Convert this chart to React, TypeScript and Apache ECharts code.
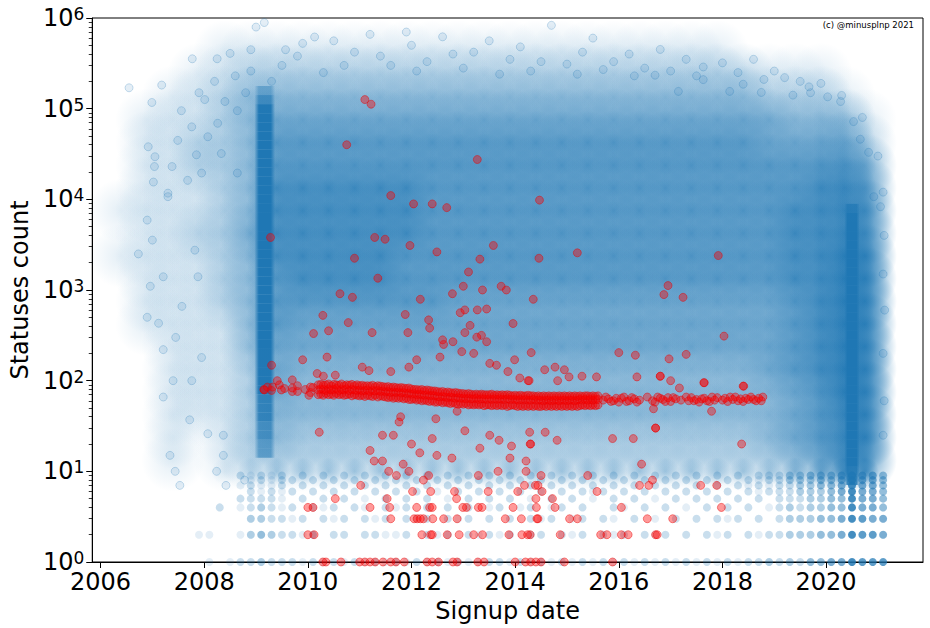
import React, { useEffect, useRef } from "react";
import * as echarts from "echarts";

// ---------- axes ----------
const X_MIN = 2005.84;
const X_MAX = 2021.87;
const xTickYears = [2006, 2008, 2010, 2012, 2014, 2016, 2018, 2020];
const yMinorValues = [
  2, 3, 4, 5, 6, 7, 8, 9,
  20, 30, 40, 50, 60, 70, 80, 90,
  200, 300, 400, 500, 600, 700, 800, 900,
  2000, 3000, 4000, 5000, 6000, 7000, 8000, 9000,
  20000, 30000, 40000, 50000, 60000, 70000, 80000, 90000,
  200000, 300000, 400000, 500000, 600000, 700000, 800000, 900000,
];

// ---------- blue cloud: density (0 = empty, 9 = saturated) ----------
// columns: half-year bins (centre years), rows: quarter-decade bins (centre log10 value), top to bottom
const densityCols = [
  2006.4, 2006.9, 2007.4, 2007.9, 2008.4, 2008.9, 2009.4, 2009.9, 2010.4, 2010.9,
  2011.4, 2011.9, 2012.4, 2012.9, 2013.4, 2013.9, 2014.4, 2014.9, 2015.4, 2015.9,
  2016.4, 2016.9, 2017.4, 2017.9, 2018.4, 2018.9, 2019.4, 2019.9, 2020.35, 2020.75,
];
const densityRowsLog = [
  5.875, 5.625, 5.375, 5.125, 4.875, 4.625, 4.375, 4.125, 3.875, 3.625,
  3.375, 3.125, 2.875, 2.625, 2.375, 2.125, 1.875, 1.625, 1.375, 1.125,
];
const densityGrid = [
  "000000000000000000000000000000",
  "000011111111111111111111000000",
  "000112222222222222222222211100",
  "001123333333333333333333322210",
  "011123444444444444444444443331",
  "011223555555555555555555544442",
  "011223555555555555555555555554",
  "011123666666555555555555555665",
  "111123666666555555555555556666",
  "011224666666555555555555556666",
  "111123666665555555555555556677",
  "011123566665555555555555556677",
  "011123555555544444444444445677",
  "011113544444444444444444445677",
  "001113444444444444444444445677",
  "001112433333333333333333345677",
  "001112433333333333333333334577",
  "001112333333333333333333334567",
  "001012322222222222222222234567",
  "001012222222222222222222223466",
];
// the thin layer of accounts with about ten statuses, just above the integer rows
const edgeRowLog = 1.0;
const edgeRowLevels = "000012333333333333333333334577";

// dense vertical stripes (levels every 0.1 decade, from the first log value upward)
const stripe2009Year = 2009.17;
const stripe2009FromLog = 1.2;
const stripe2009Levels = "44556667777788888888889999999999999988753";
const stripe2020Year = 2020.5;
const stripe2020FromLog = 0.9;
const stripe2020Levels = "6688899999999999999999999999875";

// integer-count rows (values 1..9), levels in 0.2-year bins starting at 2007.7
const rowValues = [1, 2, 3, 4, 5, 6, 7, 8, 9];
const rowBinStart = 2007.7;
const rowBinStep = 0.2;
const rowLevels = [
  "00101" + "22322" + "21212" + "12121" + "21212" + "12112" + "21212" + "12121" + "21212" + "12121" + "21212" + "23232" + "44557" + "666",
  "01100" + "13432" + "21302" + "20221" + "12021" + "20212" + "12022" + "02120" + "21202" + "12020" + "21202" + "12233" + "34457" + "665",
  "00000" + "03322" + "12021" + "20212" + "02120" + "21202" + "02021" + "20120" + "21020" + "10202" + "02120" + "20233" + "34457" + "655",
  "00020" + "12321" + "20212" + "02102" + "12020" + "20201" + "20120" + "12020" + "02102" + "02010" + "20202" + "01232" + "33447" + "554",
  "00000" + "22221" + "02020" + "20102" + "02020" + "10202" + "02010" + "20201" + "02020" + "10202" + "02020" + "20222" + "33447" + "554",
  "00000" + "02121" + "20202" + "02020" + "20201" + "02020" + "20202" + "02021" + "20202" + "02020" + "20202" + "12223" + "33457" + "554",
  "00000" + "12112" + "02020" + "20202" + "02020" + "20202" + "02020" + "20202" + "02020" + "20202" + "02021" + "21223" + "34457" + "554",
  "00000" + "01212" + "20202" + "02020" + "20202" + "02020" + "20202" + "02020" + "20202" + "02020" + "20202" + "12233" + "34457" + "554",
  "00000" + "21212" + "02020" + "20202" + "02020" + "20202" + "02020" + "20202" + "02020" + "20202" + "02020" + "22233" + "44457" + "554",
];

// individually visible blue accounts on the fringe of the cloud [year, statuses]
const blueFringe = [
  [2006.55, 170000], [2006.99, 117000], [2007.18, 182000], [2007.56, 95000], [2007.77, 355000],
  [2008.25, 355000], [2008.5, 407000], [2008.9, 447000], [2009.0, 794000], [2009.16, 891000],
  [2009.57, 447000], [2009.9, 525000], [2010.13, 617000], [2006.92, 38000], [2007.05, 29500],
  [2007.02, 15500], [2007.38, 23000], [2007.3, 11700], [2007.49, 44700], [2007.76, 63000],
  [2007.85, 31000], [2007.95, 19500], [2008.07, 49000], [2008.01, 126000], [2008.26, 69000],
  [2008.33, 32000], [2008.64, 95000], [2008.64, 19500], [2006.73, 2500], [2006.9, 5900],
  [2007.0, 3550], [2006.96, 1100], [2006.9, 500], [2007.21, 1400], [2007.21, 220],
  [2007.21, 66], [2007.4, 100], [2007.3, 10700], [2007.57, 660], [2007.76, 100],
  [2007.72, 37], [2007.82, 2750], [2007.45, 300], [2007.12, 430], [2007.04, 23000],
  [2007.68, 16200], [2007.88, 1400], [2007.95, 180], [2008.07, 26], [2007.34, 15],
  [2007.44, 10], [2007.53, 7], [2008.24, 10], [2008.37, 25], [2008.42, 7],
  [2008.37, 15], [2008.78, 8],
  [2017.63, 288000], [2017.63, 209000], [2018.4, 186000], [2019.67, 174000], [2020.28, 120000],
  [2020.53, 72000], [2020.66, 46000], [2020.82, 33000], [2020.92, 10700], [2021.05, 8300],
  [2016.7, 234000], [2017.15, 155000], [2018.14, 155000], [2018.75, 151000], [2019.36, 141000],
  [2020.03, 135000], [2010.5, 560000], [2011.2, 660000], [2012.0, 500000], [2012.8, 400000],
  [2013.5, 560000], [2014.7, 830000], [2015.5, 600000], [2016.2, 400000], [2016.8, 450000],
  [2017.3, 350000], [2018.0, 320000], [2018.6, 350000], [2019.0, 260000], [2019.5, 200000],
  [2009.8, 380000], [2010.9, 420000], [2011.6, 300000], [2012.3, 330000], [2013.0, 280000],
  [2013.9, 350000], [2014.3, 260000], [2015.0, 310000], [2015.9, 330000], [2016.5, 280000],
  [2011.9, 700000], [2010.3, 250000], [2014.1, 480000], [2015.3, 420000], [2017.0, 260000],
  [2018.3, 250000], [2012.6, 620000], [2009.5, 300000], [2008.9, 260000], [2008.6, 230000],
  [2008.2, 200000], [2007.9, 150000], [2019.2, 220000], [2019.9, 190000], [2020.3, 140000],
  [2020.7, 80000], [2021.0, 30000], [2021.1, 12000], [2021.12, 4000], [2021.1, 1500],
  [2021.13, 600], [2021.1, 200], [2021.12, 60], [2021.1, 25],
  [2010.7, 300000], [2011.4, 380000], [2012.1, 260000], [2013.2, 420000], [2013.7, 240000],
  [2014.5, 330000], [2015.2, 240000], [2015.7, 270000], [2016.3, 230000], [2017.5, 230000],
  [2018.8, 210000], [2019.7, 150000], [2009.3, 200000], [2008.8, 150000], [2008.4, 120000],
];

// red accounts: the core of the band, three accounts per date [year, low, mid, high]
const redBandCore = [
  [2010.2, 70, 79, 90], [2010.25, 71, 81, 91], [2010.3, 69, 80, 89], [2010.35, 72, 78, 90], [2010.4, 70, 81, 92],
  [2010.45, 71, 79, 88], [2010.5, 69, 80, 91], [2010.55, 72, 82, 90], [2010.6, 70, 78, 89], [2010.65, 71, 80, 92],
  [2010.7, 69, 79, 88], [2010.75, 70, 81, 90], [2010.8, 71, 78, 89], [2010.85, 68, 80, 91], [2010.9, 70, 79, 88],
  [2010.95, 69, 78, 90], [2011.0, 68, 79, 88], [2011.05, 69, 77, 89], [2011.1, 67, 78, 87], [2011.15, 69, 79, 88],
  [2011.2, 68, 76, 87], [2011.25, 67, 78, 89], [2011.3, 69, 77, 86], [2011.35, 66, 78, 88], [2011.4, 68, 76, 87],
  [2011.45, 67, 77, 86], [2011.5, 66, 75, 85], [2011.55, 65, 76, 86], [2011.6, 66, 74, 84], [2011.65, 64, 75, 85],
  [2011.7, 65, 74, 84], [2011.75, 64, 75, 83], [2011.8, 65, 73, 84], [2011.85, 63, 74, 83], [2011.9, 64, 72, 82],
  [2011.95, 62, 73, 83], [2012.0, 62, 71, 81], [2012.05, 63, 72, 80], [2012.1, 61, 70, 80], [2012.15, 62, 71, 79],
  [2012.2, 60, 70, 80], [2012.25, 61, 69, 78], [2012.3, 60, 70, 79], [2012.35, 59, 68, 78], [2012.4, 60, 69, 77],
  [2012.45, 58, 68, 77], [2012.5, 58, 67, 76], [2012.55, 59, 66, 75], [2012.6, 57, 67, 76], [2012.65, 58, 66, 74],
  [2012.7, 57, 65, 75], [2012.75, 56, 66, 74], [2012.8, 57, 65, 73], [2012.85, 56, 64, 74], [2012.9, 55, 65, 73],
  [2012.95, 56, 64, 72], [2013.0, 55, 64, 72], [2013.05, 56, 63, 71], [2013.1, 54, 64, 72], [2013.15, 55, 63, 71],
  [2013.2, 54, 63, 70], [2013.25, 55, 64, 71], [2013.3, 54, 62, 70], [2013.35, 55, 63, 71], [2013.4, 53, 63, 70],
  [2013.45, 54, 62, 70], [2013.5, 54, 63, 70], [2013.55, 53, 62, 71], [2013.6, 54, 63, 69], [2013.65, 53, 62, 70],
  [2013.7, 54, 63, 69], [2013.75, 53, 62, 70], [2013.8, 54, 62, 69], [2013.85, 52, 63, 70], [2013.9, 53, 62, 69],
  [2013.95, 54, 62, 68], [2014.0, 53, 62, 69], [2014.05, 52, 61, 68], [2014.1, 53, 62, 69], [2014.15, 52, 61, 68],
  [2014.2, 53, 62, 68], [2014.25, 52, 61, 69], [2014.3, 53, 61, 68], [2014.35, 52, 62, 68], [2014.4, 53, 61, 67],
  [2014.45, 52, 61, 68], [2014.5, 52, 61, 67], [2014.55, 53, 60, 68], [2014.6, 52, 61, 67], [2014.65, 53, 61, 68],
  [2014.7, 52, 60, 67], [2014.75, 53, 61, 68], [2014.8, 52, 61, 67], [2014.85, 53, 60, 68], [2014.9, 52, 61, 67],
  [2014.95, 53, 61, 68], [2015.0, 52, 60, 67], [2015.05, 53, 61, 68], [2015.1, 52, 61, 67], [2015.15, 53, 60, 68],
  [2015.2, 52, 61, 67], [2015.25, 53, 62, 68], [2015.3, 54, 61, 67], [2015.35, 53, 62, 68], [2015.4, 54, 61, 68],
  [2015.45, 53, 62, 67], [2015.5, 54, 61, 68], [2015.55, 53, 62, 67], [2015.6, 54, 62, 68],
];

// red accounts along the band [year, statuses]
const redBand = [
  [2009.15, 80], [2009.22, 85], [2009.3, 78], [2009.45, 90], [2009.55, 82], [2009.7, 76], [2009.8, 88],
  [2009.95, 80], [2010.05, 74], [2010.1, 84],
  [2015.7, 61], [2015.75, 66], [2015.8, 63], [2015.85, 59], [2015.9, 60], [2015.95, 64], [2016.0, 58],
  [2016.05, 64], [2016.1, 66], [2016.15, 59], [2016.2, 60], [2016.25, 65], [2016.3, 63], [2016.35, 58],
  [2016.4, 61], [2016.55, 66], [2016.65, 60], [2016.7, 58], [2016.75, 66], [2016.8, 64], [2016.85, 62],
  [2016.9, 59], [2016.95, 65], [2017.0, 59], [2017.05, 65], [2017.1, 63], [2017.2, 61], [2017.3, 66],
  [2017.35, 60], [2017.4, 65], [2017.45, 60], [2017.5, 62], [2017.55, 58], [2017.6, 63], [2017.65, 64],
  [2017.7, 60], [2017.75, 59], [2017.8, 66], [2017.85, 61], [2017.9, 65], [2018.0, 61], [2018.05, 64],
  [2018.1, 59], [2018.15, 66], [2018.2, 62], [2018.25, 66], [2018.3, 60], [2018.35, 63], [2018.4, 59],
  [2018.45, 64], [2018.5, 62], [2018.55, 66], [2018.6, 62], [2018.65, 60], [2018.7, 64], [2018.75, 60],
  [2018.78, 66],
];

// red accounts scattered off the band [year, statuses]
const redScatter = [
  [2011.1, 126000], [2011.22, 112000], [2010.75, 40000], [2013.27, 27500], [2011.6, 11000], [2012.04, 8900],
  [2012.4, 8900], [2012.68, 8100], [2014.47, 9800], [2009.28, 3800], [2011.29, 3800], [2011.49, 3630],
  [2011.97, 3100], [2012.49, 2630], [2013.58, 3100], [2013.32, 2190], [2014.46, 2240], [2010.9, 2240],
  [2011.35, 1350], [2013.1, 1580], [2013.0, 1100], [2013.37, 1000], [2013.73, 1100], [2013.83, 1000],
  [2012.79, 910], [2010.62, 910], [2010.86, 830], [2012.17, 790], [2014.35, 790], [2017.92, 2400],
  [2015.2, 2570], [2016.95, 1120], [2016.87, 890], [2017.24, 830], [2018.03, 310], [2016.97, 174],
  [2017.3, 195], [2016.8, 112], [2017.0, 100], [2017.64, 95], [2018.41, 87], [2017.17, 83],
  [2010.29, 525], [2010.78, 437], [2010.11, 331], [2010.4, 355], [2011.24, 339], [2011.88, 537],
  [2011.93, 339], [2012.33, 468], [2012.35, 380], [2012.94, 562], [2013.03, 603], [2013.27, 603],
  [2013.45, 617], [2013.13, 407], [2013.03, 339], [2013.35, 316], [2013.26, 302], [2013.45, 269],
  [2012.6, 282], [2012.62, 251], [2012.8, 269], [2012.97, 209], [2013.2, 200], [2013.96, 427],
  [2014.31, 204], [2009.3, 148], [2009.9, 170], [2010.37, 182], [2011.05, 141], [2011.18, 129],
  [2012.1, 170], [2012.55, 182], [2013.51, 155], [2013.64, 148], [2013.99, 170], [2013.86, 126],
  [2014.09, 107], [2014.27, 100], [2011.6, 126], [2011.95, 141],
  [2011.79, 40], [2011.76, 35], [2012.47, 38], [2012.88, 46], [2010.22, 27], [2011.44, 25],
  [2011.65, 25], [2012.0, 20], [2012.4, 23], [2013.03, 28], [2013.32, 18], [2013.51, 25],
  [2013.69, 22], [2013.93, 19], [2014.29, 20], [2011.2, 17], [2012.16, 16], [2012.49, 15],
  [2012.78, 14], [2013.9, 14], [2014.21, 13], [2011.28, 13], [2011.44, 13], [2011.84, 12],
  [2011.56, 10], [2011.71, 9], [2011.95, 10], [2012.33, 9], [2013.29, 9], [2013.67, 10],
  [2014.21, 10], [2014.5, 9], [2012.23, 8], [2011.02, 7], [2012.02, 6], [2012.37, 6],
  [2012.83, 6], [2013.48, 6], [2014.05, 6], [2014.44, 7], [2010.53, 5], [2011.53, 5], [2012.87, 5],
  [2010.1, 4], [2011.2, 4], [2011.58, 4], [2012.1, 4], [2012.35, 4], [2012.4, 4], [2012.99, 4],
  [2013.06, 4], [2013.29, 4], [2013.36, 4], [2013.96, 4], [2014.41, 4], [2010.0, 4],
  [2011.6, 3], [2012.05, 3], [2012.11, 3], [2012.17, 3], [2012.23, 3], [2012.41, 3], [2012.62, 3],
  [2012.88, 3], [2013.81, 3], [2014.12, 3], [2014.44, 3],
  [2010.0, 2], [2010.12, 2], [2012.2, 2], [2012.37, 2], [2012.4, 2], [2012.69, 2], [2012.92, 2],
  [2013.2, 2], [2013.37, 2], [2013.88, 2], [2014.13, 2], [2014.29, 2],
  [2010.29, 1], [2010.35, 1], [2010.64, 1], [2011.0, 1], [2011.1, 1], [2011.2, 1], [2011.3, 1],
  [2011.45, 1], [2011.6, 1], [2011.7, 1], [2011.86, 1], [2012.3, 1], [2012.4, 1], [2012.52, 1],
  [2012.8, 1], [2012.88, 1], [2013.28, 1], [2013.4, 1], [2014.0, 1], [2014.2, 1], [2014.3, 1],
  [2014.4, 1], [2014.5, 1], [2014.95, 1], [2015.88, 1],
  [2016.0, 204], [2016.32, 191], [2014.57, 132], [2014.77, 141], [2014.95, 132], [2014.82, 100],
  [2015.04, 110], [2015.29, 112], [2015.57, 110], [2016.35, 110], [2016.8, 112], [2017.65, 95],
  [2018.4, 87], [2014.25, 100], [2014.28, 27], [2014.58, 27], [2014.3, 20], [2014.81, 22],
  [2015.88, 23], [2016.28, 23], [2016.71, 30], [2018.37, 20], [2016.44, 12], [2015.4, 9],
  [2014.18, 7], [2014.39, 7], [2016.4, 7], [2016.58, 7], [2016.65, 8], [2017.58, 7], [2017.89, 7],
  [2014.52, 6], [2015.58, 6], [2014.4, 5], [2014.72, 5], [2014.77, 4], [2016.05, 4], [2017.98, 4],
  [2014.42, 3], [2015.05, 3], [2015.2, 3], [2016.55, 3], [2017.04, 3],
  [2014.24, 2], [2014.87, 2], [2015.65, 2], [2015.77, 2], [2016.05, 2], [2016.18, 2], [2016.71, 2], [2016.74, 2],
  [2016.67, 49], [2017.79, 46], [2016.71, 30],
  [2009.16, 79], [2009.32, 85], [2009.41, 100], [2009.49, 79], [2009.7, 102], [2009.7, 83],
  [2009.8, 76], [2010.02, 69], [2010.05, 85], [2010.18, 120], [2010.3, 112], [2010.53, 115],
];

const FONT = "DejaVu Sans";
const BLUE = "#1f77b4";

export default function App() {
  const ref = useRef<HTMLDivElement>(null);

  useEffect(() => {
    if (!ref.current) return;
    const chart = echarts.init(ref.current, undefined, { renderer: "svg" });

    const densityData: any[] = [];
    densityGrid.forEach((row, j) => {
      for (let i = 0; i < densityCols.length; i++) {
        const lv = Number(row[i] || 0);
        if (lv > 0) {
          densityData.push({
            value: [densityCols[i], Math.pow(10, densityRowsLog[j])],
            itemStyle: { opacity: Math.min(1, lv * 0.125) },
          });
        }
      }
    });
    for (let i = 0; i < densityCols.length; i++) {
      const lv = Number(edgeRowLevels[i] || 0);
      if (lv > 0) {
        densityData.push({
          value: [densityCols[i], Math.pow(10, edgeRowLog)],
          symbolSize: 28,
          itemStyle: { opacity: Math.min(1, lv * 0.1) },
        });
      }
    }

    const stripeData: any[] = [];
    const addStripe = (year: number, fromLog: number, levels: string, w: number) => {
      for (let k = 0; k < levels.length; k++) {
        const lv = Number(levels[k]);
        if (lv > 0) {
          stripeData.push({
            value: [year, Math.pow(10, fromLog + k * 0.1)],
            symbolSize: [w, 9.1],
            itemStyle: { opacity: Math.min(1, lv * 0.14) },
          });
        }
      }
    };
    addStripe(stripe2009Year, stripe2009FromLog, stripe2009Levels, 20);
    addStripe(stripe2020Year, stripe2020FromLog, stripe2020Levels, 15);

    const rowData: any[] = [];
    rowValues.forEach((v, r) => {
      const s = rowLevels[r];
      for (let k = 0; k < s.length; k++) {
        const lv = Number(s[k]);
        if (lv > 0) {
          rowData.push({
            value: [rowBinStart + k * rowBinStep, v],
            itemStyle: { opacity: Math.min(1, lv * 0.12) },
          });
        }
      }
    });

    const redData: number[][] = [];
    redBandCore.forEach(([yr, a, b, c]) => {
      redData.push([yr, a], [yr, b], [yr, c]);
    });
    redBand.forEach((p) => redData.push(p));

    const softBlue = new echarts.graphic.RadialGradient(0.5, 0.5, 0.5, [
      { offset: 0, color: "rgba(31,119,180,1)" },
      { offset: 1, color: "rgba(31,119,180,0)" },
    ]);
    const stripeBlue = new echarts.graphic.LinearGradient(0, 0, 1, 0, [
      { offset: 0, color: "rgba(31,119,180,0.1)" },
      { offset: 0.2, color: "rgba(31,119,180,1)" },
      { offset: 0.8, color: "rgba(31,119,180,1)" },
      { offset: 1, color: "rgba(31,119,180,0.1)" },
    ]);

    const redStyle = {
      color: "rgba(255,0,0,0.5)",
      borderColor: "rgba(230,0,0,0.55)",
      borderWidth: 1,
    };

    const option: any = {
      animation: false,
      backgroundColor: "#ffffff",
      textStyle: { fontFamily: FONT },
      grid: {
        left: 86,
        top: 18,
        right: 7,
        bottom: 66,
        show: true,
        borderColor: "#000",
        borderWidth: 1,
        backgroundColor: "transparent",
        containLabel: false,
      },
      xAxis: {
        type: "value",
        min: X_MIN,
        max: X_MAX,
        axisLine: { show: true, onZero: false, lineStyle: { color: "#000", width: 1 } },
        axisTick: { show: true, customValues: xTickYears, length: 6, lineStyle: { color: "#000" } },
        axisLabel: {
          customValues: xTickYears,
          color: "#000",
          fontSize: 24,
          fontFamily: FONT,
          margin: 8,
          formatter: (v: number) => String(Math.round(v)),
        },
        splitLine: { show: false },
        name: "Signup date",
        nameLocation: "middle",
        nameGap: 31,
        nameTextStyle: { fontSize: 24, color: "#000", fontFamily: FONT },
      },
      yAxis: [
        {
          type: "log",
          logBase: 10,
          min: 1,
          max: 1000000,
          splitNumber: 6,
          axisLine: { show: true, lineStyle: { color: "#000", width: 1 } },
          axisTick: { show: true, length: 6, lineStyle: { color: "#000" } },
          axisLabel: {
            margin: 8,
            formatter: (v: number) => "{b|10}{s|" + Math.round(Math.log10(v)) + "}",
            rich: {
              b: { fontSize: 24, fontFamily: FONT, color: "#000" },
              s: { fontSize: 17, fontFamily: FONT, color: "#000", verticalAlign: "top", padding: [0, 0, 8, 0] },
            },
          },
          splitLine: { show: false },
          name: "Statuses count",
          nameLocation: "middle",
          nameGap: 52,
          nameTextStyle: { fontSize: 24, color: "#000", fontFamily: FONT },
        },
        {
          type: "value",
          min: 0,
          max: 6,
          position: "left",
          axisLine: { show: false },
          axisLabel: { show: false },
          splitLine: { show: false },
          axisTick: {
            show: true,
            length: 3.5,
            customValues: yMinorValues.map((v) => Math.log10(v)),
            lineStyle: { color: "#000", width: 0.8 },
          },
        },
      ],
      graphic: [
        {
          type: "text",
          right: 16,
          top: 20,
          style: { text: "(c) @minusplnp 2021", font: "8.5px 'DejaVu Sans'", fill: "#000" },
        },
      ],
      series: [
        {
          type: "scatter",
          name: "density",
          silent: true,
          symbol: "circle",
          symbolSize: 64,
          data: densityData,
          itemStyle: { color: softBlue },
          z: 1,
        },
        {
          type: "scatter",
          name: "stripes",
          silent: true,
          symbol: "rect",
          data: stripeData,
          itemStyle: { color: stripeBlue },
          z: 2,
        },
        {
          type: "scatter",
          name: "rows",
          silent: true,
          symbolSize: 8,
          data: rowData,
          itemStyle: { color: BLUE },
          z: 3,
        },
        {
          type: "scatter",
          name: "fringe",
          silent: true,
          symbolSize: 8,
          data: blueFringe,
          itemStyle: { color: "rgba(31,119,180,0.15)", borderColor: "rgba(31,119,180,0.3)", borderWidth: 1 },
          z: 4,
        },
        {
          type: "scatter",
          name: "red band",
          silent: true,
          symbolSize: 8,
          data: redData,
          itemStyle: redStyle,
          z: 5,
        },
        {
          type: "scatter",
          name: "red",
          silent: true,
          symbolSize: 8,
          data: redScatter,
          itemStyle: redStyle,
          z: 5,
        },
      ],
    };

    chart.setOption(option);
    return () => chart.dispose();
  }, []);

  return (
    <div
      ref={ref}
      style={{ position: "fixed", left: 0, top: 0, width: 930, height: 628, background: "#fff" }}
    />
  );
}
